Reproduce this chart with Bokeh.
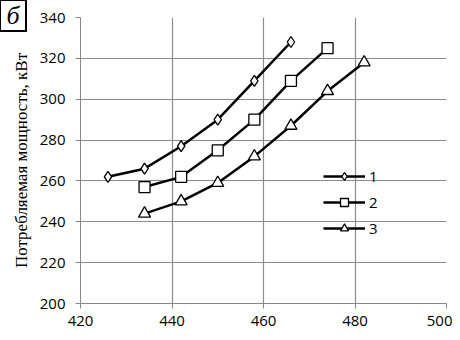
from bokeh.plotting import figure
from bokeh.models import Legend, LegendItem, FixedTicker, Range1d, Div
from bokeh.layouts import column
from bokeh.embed import file_html
from bokeh.resources import INLINE

x1 = [426, 434, 442, 450, 458, 466]
y1 = [262, 266, 277, 290, 309, 328]
x2 = [434, 442, 450, 458, 466, 474]
y2 = [257, 262, 275, 290, 309, 325]
x3 = [434, 442, 450, 458, 466, 474, 482]
y3 = [244, 250, 259, 272, 287, 304, 318]
labels = ["1", "2", "3"]
x_ticks = [420, 440, 460, 480, 500]
y_ticks = [200, 220, 240, 260, 280, 300, 320, 340]
panel_mark = "б"

p = figure(width=452, height=334, output_backend="svg", toolbar_location=None,
           x_range=Range1d(420, 500), y_range=Range1d(200, 340),
           min_border_left=80, min_border_right=6, min_border_top=17, min_border_bottom=31)
p.outline_line_color = None
p.background_fill_color = "white"
p.border_fill_color = "white"

for ax, t in ((p.xaxis, x_ticks), (p.yaxis, y_ticks)):
    ax.ticker = FixedTicker(ticks=t)
    ax.axis_line_color = "#888888"
    ax.major_tick_line_color = "#888888"
    ax.major_tick_out = 5
    ax.major_tick_in = 0
    ax.minor_tick_line_color = None
    ax.major_label_text_font = "Open Sans"
    ax.major_label_text_font_size = "15px"
    ax.major_label_text_color = "black"

p.xaxis.major_label_standoff = 7
p.yaxis.major_label_standoff = 10
p.yaxis.axis_label = "Потребляемая мощность, кВт"
p.yaxis.axis_label_text_font = "Liberation Serif"
p.yaxis.axis_label_text_font_style = "normal"
p.yaxis.axis_label_text_font_size = "17px"
p.yaxis.axis_label_text_color = "black"
p.yaxis.axis_label_standoff = 6

p.xgrid.ticker = FixedTicker(ticks=x_ticks)
p.ygrid.ticker = FixedTicker(ticks=y_ticks)
p.grid.grid_line_color = "#8c8c8c"
p.grid.grid_line_width = 1.2

items = []
series = [(x1, y1, "diamond", 11), (x2, y2, "square", 11), (x3, y3, "triangle", 12)]
for (xs, ys, m, s), lab in zip(series, labels):
    l = p.line(xs, ys, line_color="black", line_width=2.5)
    sc = p.scatter(xs, ys, marker=m, size=s, fill_color="white", line_color="black", line_width=1.3)
    items.append(LegendItem(label=lab, renderers=[l, sc]))

leg = Legend(items=items, location=(243, 65), background_fill_alpha=0,
             border_line_color=None, padding=0, margin=0, spacing=6,
             glyph_width=42, glyph_height=20, label_standoff=4,
             label_text_font="Open Sans", label_text_font_size="15px",
             label_text_color="black")
p.add_layout(leg)

d = Div(text="<i>" + panel_mark + "</i>",
        styles={"position": "absolute", "left": "-6px", "top": "-6px",
                "box-sizing": "border-box", "border": "2px solid black",
                "font-family": "Liberation Serif", "font-size": "26px",
                "width": "28px", "height": "33px", "text-align": "center",
                "line-height": "29px", "background": "white", "color": "black"})

lay = column(p, d)
open("out.html", "w").write(file_html(lay, INLINE))
